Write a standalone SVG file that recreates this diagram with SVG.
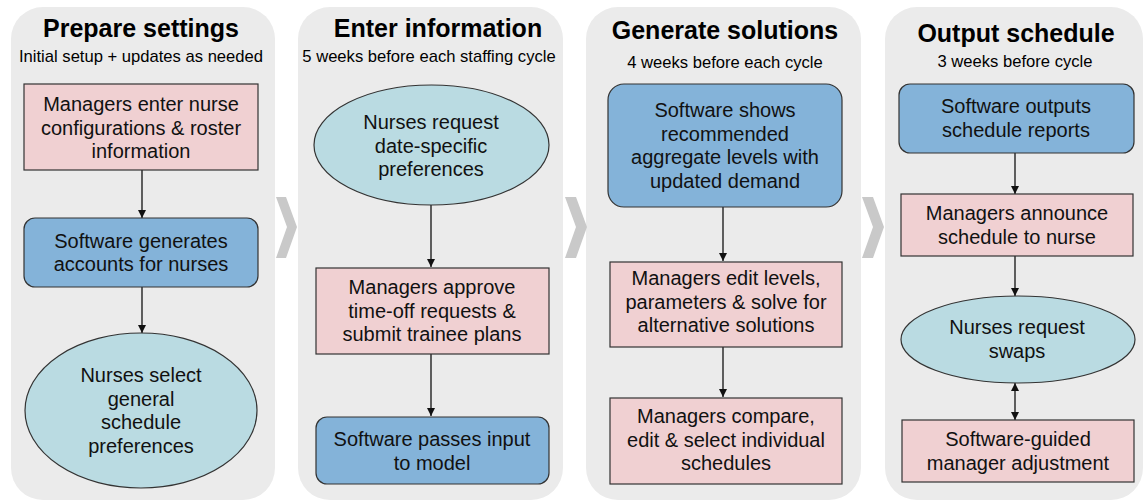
<svg xmlns="http://www.w3.org/2000/svg" width="1148" height="503" viewBox="0 0 1148 503">
  <defs>
    <style>
      .panel { fill: #ebebeb; }
      .chev { fill: #c9c9c9; }
      .head { font-family: "Liberation Sans", Arial, sans-serif; font-weight: bold; font-size: 25px; fill: #000; text-anchor: middle; }
      .sub { font-family: "Liberation Sans", Arial, sans-serif; font-size: 16.6px; fill: #000; text-anchor: middle; }
      .lbl { font-family: "Liberation Sans", Arial, sans-serif; font-size: 20px; fill: #111; text-anchor: middle; }
      .mgr { fill: #f0d0d2; stroke: #333; stroke-width: 1.2; }
      .sw { fill: #84b3d9; stroke: #333; stroke-width: 1.2; }
      .nurse { fill: #badbe2; stroke: #333; stroke-width: 1.2; }
      .conn { stroke: #111; stroke-width: 1.3; fill: none; }
    </style>
    <marker id="arrow" viewBox="0 0 10 10" refX="10" refY="5" markerWidth="8" markerHeight="8" markerUnits="userSpaceOnUse" orient="auto-start-reverse">
      <path d="M0,0 L10,5 L0,10 Z" fill="#111"/>
    </marker>
  </defs>

  <!-- stage panels -->
  <g id="panels">
    <rect class="panel" x="11" y="7" width="264" height="493" rx="32"/>
    <rect class="panel" x="298" y="7" width="265" height="493" rx="32"/>
    <rect class="panel" x="586" y="7" width="275" height="493" rx="32"/>
    <rect class="panel" x="885" y="7" width="258" height="493" rx="32"/>
  </g>

  <!-- chevrons between stages -->
  <g id="chevrons">
    <polygon class="chev" points="276,197 286,197 297,227 286,258 276,258 287,227"/>
    <polygon class="chev" points="565,197 576,197 587,227 576,258 565,258 576,227"/>
    <polygon class="chev" points="862,197 873,197 884,227 873,258 862,258 873,227"/>
  </g>

  <!-- stage titles -->
  <g id="titles">
    <text class="head" x="141" y="37">Prepare settings</text>
    <text class="sub" x="141" y="62">Initial setup + updates as needed</text>
    <text class="head" x="438" y="37">Enter information</text>
    <text class="sub" x="429" y="62">5 weeks before each staffing cycle</text>
    <text class="head" x="725" y="39">Generate solutions</text>
    <text class="sub" x="725" y="68">4 weeks before each cycle</text>
    <text class="head" x="1016" y="42">Output schedule</text>
    <text class="sub" x="1015" y="67">3 weeks before cycle</text>
  </g>

  <!-- connectors -->
  <g id="connectors">
    <line class="conn" x1="142" y1="170" x2="142" y2="218" marker-end="url(#arrow)"/>
    <line class="conn" x1="142" y1="287" x2="142" y2="333" marker-end="url(#arrow)"/>
    <line class="conn" x1="431" y1="205" x2="431" y2="267" marker-end="url(#arrow)"/>
    <line class="conn" x1="431" y1="354" x2="431" y2="416" marker-end="url(#arrow)"/>
    <line class="conn" x1="723" y1="207" x2="723" y2="261" marker-end="url(#arrow)"/>
    <line class="conn" x1="723" y1="347" x2="723" y2="397" marker-end="url(#arrow)"/>
    <line class="conn" x1="1015" y1="153" x2="1015" y2="194" marker-end="url(#arrow)"/>
    <line class="conn" x1="1015" y1="256" x2="1015" y2="296" marker-end="url(#arrow)"/>
    <line class="conn" x1="1015" y1="383" x2="1015" y2="420" marker-start="url(#arrow)" marker-end="url(#arrow)"/>
  </g>

  <!-- Prepare settings -->
  <g id="managers-enter-config">
    <rect class="mgr" x="24" y="84" width="234" height="86"/>
    <text class="lbl" x="141" y="111">Managers enter nurse</text>
    <text class="lbl" x="141" y="134.5">configurations &amp; roster</text>
    <text class="lbl" x="141" y="158">information</text>
  </g>
  <g id="software-accounts">
    <rect class="sw" x="24" y="218" width="234" height="69" rx="11"/>
    <text class="lbl" x="141" y="248">Software generates</text>
    <text class="lbl" x="141" y="271">accounts for nurses</text>
  </g>
  <g id="nurses-general-prefs">
    <ellipse class="nurse" cx="141" cy="410.5" rx="116" ry="77.5"/>
    <text class="lbl" x="141" y="382">Nurses select</text>
    <text class="lbl" x="141" y="405.5">general</text>
    <text class="lbl" x="141" y="429">schedule</text>
    <text class="lbl" x="141" y="452.5">preferences</text>
  </g>

  <!-- Enter information -->
  <g id="nurses-date-prefs">
    <ellipse class="nurse" cx="431.5" cy="145" rx="117.5" ry="60"/>
    <text class="lbl" x="431" y="129">Nurses request</text>
    <text class="lbl" x="431" y="152.5">date-specific</text>
    <text class="lbl" x="431" y="176">preferences</text>
  </g>
  <g id="managers-approve">
    <rect class="mgr" x="316" y="268" width="233" height="86"/>
    <text class="lbl" x="432" y="294">Managers approve</text>
    <text class="lbl" x="432" y="317.5">time-off requests &amp;</text>
    <text class="lbl" x="432" y="341">submit trainee plans</text>
  </g>
  <g id="software-passes-input">
    <rect class="sw" x="316" y="417" width="233" height="67" rx="11"/>
    <text class="lbl" x="432" y="446">Software passes input</text>
    <text class="lbl" x="432" y="469.5">to model</text>
  </g>

  <!-- Generate solutions -->
  <g id="software-recommends">
    <rect class="sw" x="608" y="84" width="234" height="123" rx="16"/>
    <text class="lbl" x="725" y="117">Software shows</text>
    <text class="lbl" x="725" y="140.5">recommended</text>
    <text class="lbl" x="725" y="164">aggregate levels with</text>
    <text class="lbl" x="725" y="187.5">updated demand</text>
  </g>
  <g id="managers-edit-levels">
    <rect class="mgr" x="610" y="262" width="232" height="85"/>
    <text class="lbl" x="726" y="285">Managers edit levels,</text>
    <text class="lbl" x="726" y="308.5">parameters &amp; solve for</text>
    <text class="lbl" x="726" y="332">alternative solutions</text>
  </g>
  <g id="managers-compare">
    <rect class="mgr" x="610" y="398" width="232" height="86"/>
    <text class="lbl" x="726" y="423">Managers compare,</text>
    <text class="lbl" x="726" y="446.5">edit &amp; select individual</text>
    <text class="lbl" x="726" y="470">schedules</text>
  </g>

  <!-- Output schedule -->
  <g id="software-outputs">
    <rect class="sw" x="899" y="84" width="235" height="69" rx="11"/>
    <text class="lbl" x="1016" y="113">Software outputs</text>
    <text class="lbl" x="1016" y="136.5">schedule reports</text>
  </g>
  <g id="managers-announce">
    <rect class="mgr" x="901" y="194" width="232" height="62"/>
    <text class="lbl" x="1017" y="220">Managers announce</text>
    <text class="lbl" x="1017" y="243.5">schedule to nurse</text>
  </g>
  <g id="nurses-swaps">
    <ellipse class="nurse" cx="1018" cy="339.5" rx="117" ry="43.5"/>
    <text class="lbl" x="1017" y="334">Nurses request</text>
    <text class="lbl" x="1017" y="357.5">swaps</text>
  </g>
  <g id="software-guided-adjustment">
    <rect class="mgr" x="902" y="420" width="232" height="62"/>
    <text class="lbl" x="1018" y="446">Software-guided</text>
    <text class="lbl" x="1018" y="469.5">manager adjustment</text>
  </g>
</svg>
